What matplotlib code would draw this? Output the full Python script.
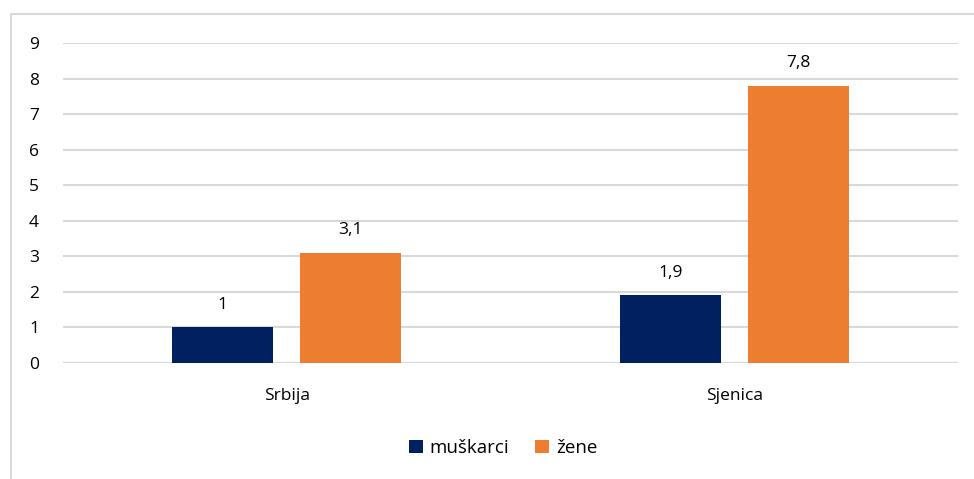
import matplotlib.pyplot as plt
from matplotlib.patches import Rectangle
import numpy as np

plt.rcParams['font.family'] = ['Open Sans', 'DejaVu Sans']

# data
categories = ["Srbija", "Sjenica"]
muskarci = [1, 1.9]
zene = [3.1, 7.8]
labels_m = ["1", "1,9"]
labels_z = ["3,1", "7,8"]
series_names = ["muškarci", "žene"]

NAVY = "#002060"
ORANGE = "#ED7D31"
GRID = "#D9D9D9"

W, H = 974, 479
fig = plt.figure(figsize=(W / 100, H / 100), dpi=100)
ax = fig.add_axes([63 / W, 1 - 363 / H, (958 - 63) / W, (363 - 43) / H])

# chart border
fig.patches.append(Rectangle((11 / W, -0.1), 1.2, 1 - 14 / H + 0.1,
                             transform=fig.transFigure, fill=False,
                             edgecolor=GRID, linewidth=1.5))

x = np.arange(len(categories))
bw = 0.226
off = 0.143
b1 = ax.bar(x - off, muskarci, bw, color=NAVY, label=series_names[0], zorder=3)
b2 = ax.bar(x + off, zene, bw, color=ORANGE, label=series_names[1], zorder=3)

for bars, labs in ((b1, labels_m), (b2, labels_z)):
    for r, t in zip(bars, labs):
        ax.text(r.get_x() + r.get_width() / 2, r.get_height() + 0.42, t,
                ha="center", va="bottom", fontsize=12.5, color="#000000")

ax.set_xlim(-0.5, 1.5)
ax.set_ylim(0, 9)
ax.set_yticks(range(0, 10))
ax.set_xticks(x)
ax.set_xticklabels(categories)
ax.yaxis.grid(True, color=GRID, linewidth=1.5, zorder=0)
for s in ax.spines.values():
    s.set_visible(False)
ax.axhline(0, color=GRID, linewidth=1.5, zorder=2)
ax.tick_params(axis="both", length=0, labelsize=12.5, colors="#000000")
ax.tick_params(axis="x", pad=18)
for t in ax.get_yticklabels():
    t.set_horizontalalignment("left")
ax.yaxis.set_tick_params(pad=24.5)

ax.legend(loc="center", bbox_to_anchor=((503 - 63) / (958 - 63), -(448 - 363) / (363 - 43)),
          ncol=2, frameon=False, fontsize=13.5, handlelength=0.75, handleheight=0.75,
          handletextpad=0.35, columnspacing=1.4)

fig.savefig("out.png", dpi=100)
